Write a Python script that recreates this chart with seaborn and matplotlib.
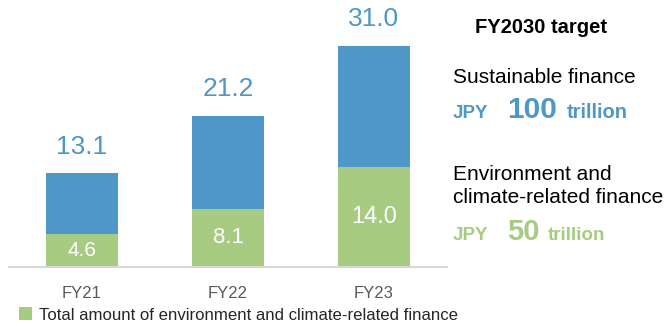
import matplotlib
matplotlib.use("Agg")
import matplotlib.pyplot as plt
import seaborn as sns
import pandas as pd
from matplotlib.patches import Patch

# ---- data ----
years = ["FY21", "FY22", "FY23"]
sustainable_total = [13.1, 21.2, 31.0]
env_climate = [4.6, 8.1, 14.0]
legend_label = "Total amount of environment and climate-related finance"

BLUE = "#5097c9"
GREEN = "#a6cb81"
GRAY_TXT = "#595959"

sns.set_theme(style="white")
plt.rcParams["font.family"] = ["Liberation Sans", "DejaVu Sans"]

W, H = 671, 329
fig = plt.figure(figsize=(W / 100, H / 100), dpi=100)

def fx(px):
    return px / W

def fy(py):
    return 1 - py / H

base_y = 266.7
ax = fig.add_axes([fx(9), 1 - base_y / H, fx(447) - fx(9), base_y / H])

df = pd.DataFrame({"year": years, "total": sustainable_total, "env": env_climate})
sns.barplot(data=df, x="year", y="total", color=BLUE, width=0.49, ax=ax,
            saturation=1, edgecolor="none")
sns.barplot(data=df, x="year", y="env", color=GREEN, width=0.49, ax=ax,
            saturation=1, edgecolor="none")

ax.set_xlim(-0.5, 2.5)
ax.set_ylim(0, base_y / 7.13)
ax.set_xlabel("")
ax.set_ylabel("")
ax.set_yticks([])
for s in ["top", "right", "left"]:
    ax.spines[s].set_visible(False)
ax.spines["bottom"].set_color("#d9d9d9")
ax.spines["bottom"].set_linewidth(1.5)
ax.tick_params(axis="x", length=0, pad=14, labelsize=12, labelcolor=GRAY_TXT)

# value labels
for i, (t, e) in enumerate(zip(sustainable_total, env_climate)):
    ax.annotate(f"{t:.1f}", xy=(i, t), xytext=(0, 19), textcoords="offset points",
                ha="center", va="center", fontsize=19, color=BLUE)
    size = [15, 16, 17][i]
    ax.text(i, e / 2, f"{e:.1f}", ha="center", va="center", fontsize=size,
            color="white")

# legend
fig.legend(handles=[Patch(facecolor=GREEN, edgecolor="none")], labels=[legend_label],
           loc="center left", bbox_to_anchor=(fx(19), fy(315)), frameon=False,
           fontsize=12.1, handlelength=0.8, handleheight=0.8, handletextpad=0.4,
           borderpad=0, borderaxespad=0)

# right-hand annotations
fig.text(fx(475), fy(33), "FY2030 target", fontsize=14.5, fontweight="bold",
         color="black", va="baseline", ha="left")
fig.text(fx(453), fy(83), "Sustainable finance", fontsize=15, color="black",
         va="baseline", ha="left")
fig.text(fx(453), fy(118), "JPY", fontsize=13.5, fontweight="bold", color=BLUE,
         va="baseline", ha="left")
fig.text(fx(507), fy(118), "100", fontsize=21.5, fontweight="bold", color=BLUE,
         va="baseline", ha="left")
fig.text(fx(567), fy(118), "trillion", fontsize=14.5, fontweight="bold", color=BLUE,
         va="baseline", ha="left")

fig.text(fx(453), fy(180), "Environment and", fontsize=15, color="black",
         va="baseline", ha="left")
fig.text(fx(453), fy(203), "climate-related finance", fontsize=15, color="black",
         va="baseline", ha="left")
fig.text(fx(453), fy(240), "JPY", fontsize=13.5, fontweight="bold", color=GREEN,
         va="baseline", ha="left")
fig.text(fx(507), fy(240), "50", fontsize=21, fontweight="bold", color=GREEN,
         va="baseline", ha="left")
fig.text(fx(548), fy(240), "trillion", fontsize=13.5, fontweight="bold", color=GREEN,
         va="baseline", ha="left")

fig.savefig("out.png", dpi=100)
